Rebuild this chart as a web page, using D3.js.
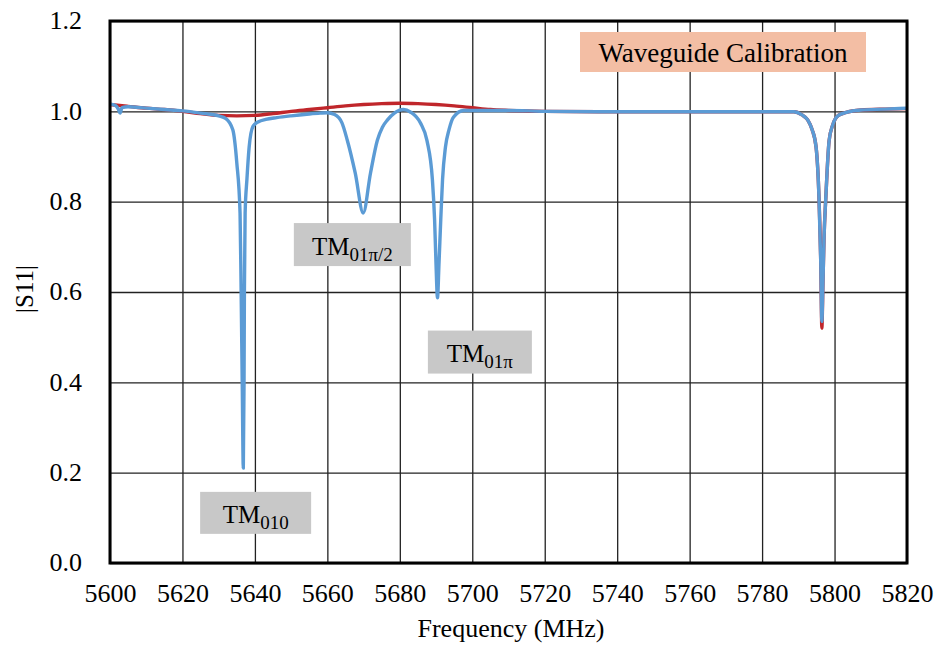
<!DOCTYPE html>
<html>
<head>
<meta charset="utf-8">
<script src="https://cdn.jsdelivr.net/npm/d3@7"></script>
<style>
  html, body { margin: 0; padding: 0; background: #fff; }
  svg { display: block; }
  text { font-family: "Liberation Serif", "Times New Roman", serif; fill: #000; }
</style>
</head>
<body>
<svg id="chart" width="937" height="645"></svg>
<script>
// ---- Data ----
const xTicks = [5600, 5620, 5640, 5660, 5680, 5700, 5720, 5740, 5760, 5780, 5800, 5820];
const yTicks = [0.0, 0.2, 0.4, 0.6, 0.8, 1.0, 1.2];

// Measured |S11| (blue)
const blueFreq = [
  5600.0, 5601.5, 5602.3, 5602.8, 5603.3, 5605, 5610, 5615, 5620, 5625, 5630, 5632,
  5633.9, 5635.0, 5635.9, 5636.2, 5636.5, 5636.8, 5637.0, 5637.1, 5637.3, 5637.8, 5638.4, 5639.5,
  5641, 5643, 5646, 5650, 5655, 5658, 5660,
  5662, 5664, 5665.5, 5667.7, 5669.9, 5671.9, 5673.8, 5675.2, 5676.6, 5678.5, 5681,
  5683, 5685.7, 5687.5, 5689.0, 5689.6, 5690.0, 5690.4, 5690.8, 5691.3, 5691.8, 5692.6, 5693.6, 5694.8, 5697.6,
  5700, 5710, 5720, 5740, 5760, 5780, 5786, 5788.8, 5791, 5792.6, 5793.8, 5794.9, 5795.7, 5796.2, 5796.5,
  5796.8, 5797.1, 5797.6, 5798.5, 5799.5, 5800.9, 5803, 5807.3, 5814, 5820
];
const blueS11 = [
  1.016, 1.013, 1.005, 0.996, 1.008, 1.010, 1.007, 1.004, 1.001, 0.996, 0.990, 0.984,
  0.959, 0.886, 0.775, 0.600, 0.400, 0.210, 0.400, 0.600, 0.775, 0.850, 0.920, 0.967,
  0.977, 0.982, 0.986, 0.990, 0.994, 0.996, 0.997,
  0.993, 0.975, 0.936, 0.863, 0.775, 0.863, 0.936, 0.965, 0.981, 0.996, 1.004,
  0.998, 0.974, 0.935, 0.848, 0.760, 0.660, 0.587, 0.660, 0.760, 0.850, 0.921, 0.960, 0.987, 1.002,
  1.002, 1.002, 1.000, 0.999, 0.999, 0.999, 0.999, 0.999, 0.992, 0.981, 0.960, 0.921, 0.810, 0.664, 0.535,
  0.620, 0.720, 0.810, 0.935, 0.970, 0.990, 0.997, 1.003, 1.005, 1.007
];

// Calibration |S11| (red)
const redFreq = [
  5600, 5605, 5610, 5615, 5620, 5625, 5630, 5635, 5640, 5645, 5650, 5655, 5660, 5665,
  5670, 5675, 5680, 5685, 5690, 5695, 5700, 5705, 5710, 5720, 5740, 5760, 5780,
  5786, 5788.8, 5791, 5792.6, 5793.8, 5794.9, 5795.7, 5796.2, 5796.5,
  5796.8, 5797.1, 5797.6, 5798.5, 5799.5, 5800.9, 5803, 5807.3, 5814, 5820
];
const redS11 = [
  1.015, 1.011, 1.007, 1.004, 1.000, 0.995, 0.991, 0.990, 0.991, 0.995, 1.000, 1.004, 1.008, 1.012,
  1.015, 1.017, 1.018, 1.017, 1.015, 1.012, 1.008, 1.004, 1.002, 1.000, 0.999, 0.999, 0.999,
  0.999, 0.999, 0.992, 0.981, 0.960, 0.921, 0.810, 0.664, 0.520,
  0.620, 0.720, 0.810, 0.935, 0.970, 0.990, 0.997, 1.003, 1.005, 1.006
];

// Annotation labels (centre of each grey box, in data units)
const modeLabels = [
  { main: "TM", sub: "010",        freq: 5640.2, val: 0.111 },
  { main: "TM", sub: "01\u03C0/2", freq: 5666.9, val: 0.705 },
  { main: "TM", sub: "01\u03C0",   freq: 5702.1, val: 0.467 }
];
const titleLabel = "Waveguide Calibration";

// ---- Layout ----
const svg = d3.select("#chart");
const L = 110, R = 907, T = 21, B = 563;

const x = d3.scaleLinear().domain([5600, 5820]).range([L, R]);
const y = d3.scaleLinear().domain([0, 1.2]).range([B, T]);

// Grid
svg.append("g")
  .attr("transform", `translate(0,${B})`)
  .call(d3.axisBottom(x).tickValues(xTicks).tickSize(-(B - T)).tickFormat(""))
  .call(g => g.select(".domain").remove())
  .call(g => g.selectAll("line").attr("stroke", "#222").attr("stroke-width", 1.3));
svg.append("g")
  .attr("transform", `translate(${L},0)`)
  .call(d3.axisLeft(y).tickValues(yTicks).tickSize(-(R - L)).tickFormat(""))
  .call(g => g.select(".domain").remove())
  .call(g => g.selectAll("line").attr("stroke", "#222").attr("stroke-width", 1.3));

// Tick labels
svg.append("g")
  .attr("transform", `translate(0,${B})`)
  .call(d3.axisBottom(x).tickValues(xTicks).tickSize(0).tickPadding(0).tickFormat(d3.format("d")))
  .call(g => g.select(".domain").remove())
  .call(g => g.selectAll("text")
    .attr("y", 39).attr("dy", 0)
    .style("font-family", "'Liberation Serif', serif").style("font-size", "26px").attr("fill", "#000"));
svg.append("g")
  .attr("transform", `translate(${L},0)`)
  .call(d3.axisLeft(y).tickValues(yTicks).tickSize(0).tickPadding(0).tickFormat(d3.format(".1f")))
  .call(g => g.select(".domain").remove())
  .call(g => g.selectAll("text")
    .attr("x", -28).attr("dy", "0.3em")
    .style("font-family", "'Liberation Serif', serif").style("font-size", "26px").attr("fill", "#000"));

// Lines
const line = d3.line().x(d => x(d[0])).y(d => y(d[1])).curve(d3.curveMonotoneX);
const redData = redFreq.map((f, i) => [f, redS11[i]]);
const blueData = blueFreq.map((f, i) => [f, blueS11[i]]);

svg.append("clipPath").attr("id", "plotclip")
  .append("rect").attr("x", L).attr("y", T).attr("width", R - L).attr("height", B - T);

svg.append("path").datum(redData)
  .attr("d", line).attr("fill", "none").attr("stroke", "#c0262b").attr("stroke-width", 3.4)
  .attr("stroke-linejoin", "round").attr("clip-path", "url(#plotclip)");
svg.append("path").datum(blueData)
  .attr("d", line).attr("fill", "none").attr("stroke", "#5b9bd5").attr("stroke-width", 3.4)
  .attr("stroke-linejoin", "round").attr("clip-path", "url(#plotclip)");

// Frame
svg.append("rect").attr("x", L).attr("y", T).attr("width", R - L).attr("height", B - T)
  .attr("fill", "none").attr("stroke", "#000").attr("stroke-width", 3);

// Mode labels (grey boxes)
const boxes = [
  { w: 111, h: 42 },
  { w: 117, h: 43 },
  { w: 104, h: 43 }
];
modeLabels.forEach((m, i) => {
  const cx = x(m.freq), cy = y(m.val);
  const b = boxes[i];
  svg.append("rect").attr("x", cx - b.w / 2).attr("y", cy - b.h / 2)
    .attr("width", b.w).attr("height", b.h).attr("fill", "#c8c8c8");
  const t = svg.append("text").attr("x", cx).attr("y", cy + 10)
    .attr("text-anchor", "middle").style("font-size", "25px");
  t.append("tspan").text(m.main);
  t.append("tspan").attr("dy", 6).style("font-size", "19px").text(m.sub);
});

// Waveguide Calibration box
svg.append("rect").attr("x", 580).attr("y", 32).attr("width", 286).attr("height", 40).attr("fill", "#f3bea4");
svg.append("text").attr("x", 723).attr("y", 62).attr("text-anchor", "middle")
  .style("font-size", "27px").text(titleLabel);

// Axis titles
svg.append("text").attr("x", 511).attr("y", 637).attr("text-anchor", "middle")
  .style("font-size", "26px").text("Frequency (MHz)");
svg.append("text").attr("transform", "translate(33,289) rotate(-90)").attr("text-anchor", "middle")
  .style("font-size", "25px").text("|S11|");
</script>
</body>
</html>
